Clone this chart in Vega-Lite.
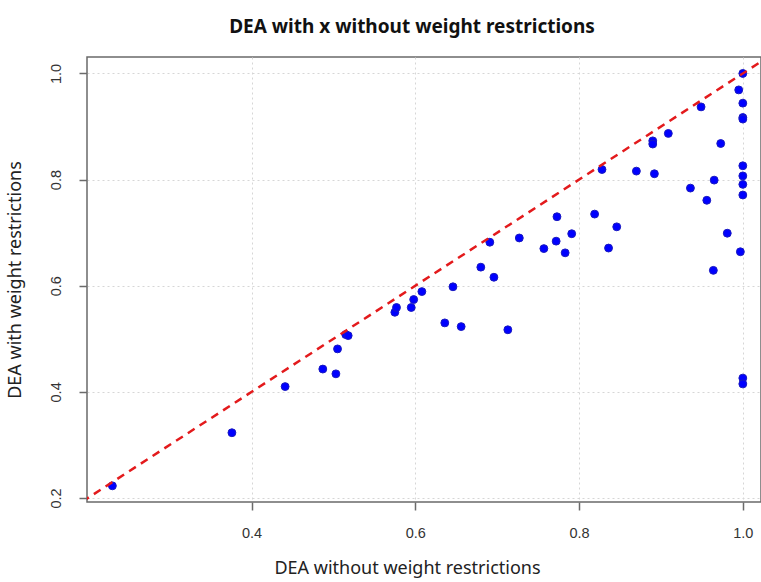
{
  "$schema": "https://vega.github.io/schema/vega-lite/v6.json",
  "autosize": "none",
  "padding": {"left": 87, "top": 57, "right": 0, "bottom": 80},
  "width": 674,
  "height": 445,
  "background": "white",
  "title": {
    "text": "DEA with x without weight restrictions",
    "font": "Noto Sans",
    "fontSize": 19,
    "fontWeight": "bold",
    "color": "#111111",
    "anchor": "middle",
    "dx": -12,
    "offset": 20
  },
  "config": {
    "view": {"stroke": "#6a6a6a", "strokeWidth": 1.5},
    "axis": {
      "grid": true,
      "gridColor": "#d6d6d6",
      "gridDash": [2, 3],
      "gridWidth": 1,
      "domain": false,
      "tickColor": "#6a6a6a",
      "tickSize": 8,
      "tickWidth": 1.5,
      "labelFont": "Liberation Sans",
      "labelFontSize": 14.5,
      "labelColor": "#333333",
      "titleFont": "Noto Sans",
      "titleFontSize": 18,
      "titleFontWeight": "normal",
      "titleColor": "#222222"
    }
  },
  "datasets": {
    "points": [
      {"x": 0.230, "y": 0.223},
      {"x": 0.376, "y": 0.323},
      {"x": 0.441, "y": 0.410},
      {"x": 0.487, "y": 0.443},
      {"x": 0.503, "y": 0.434},
      {"x": 0.505, "y": 0.481},
      {"x": 0.515, "y": 0.508},
      {"x": 0.518, "y": 0.506},
      {"x": 0.575, "y": 0.550},
      {"x": 0.577, "y": 0.559},
      {"x": 0.595, "y": 0.559},
      {"x": 0.598, "y": 0.574},
      {"x": 0.608, "y": 0.589},
      {"x": 0.646, "y": 0.598},
      {"x": 0.636, "y": 0.530},
      {"x": 0.656, "y": 0.523},
      {"x": 0.680, "y": 0.635},
      {"x": 0.696, "y": 0.616},
      {"x": 0.713, "y": 0.517},
      {"x": 0.691, "y": 0.682},
      {"x": 0.727, "y": 0.690},
      {"x": 0.757, "y": 0.670},
      {"x": 0.772, "y": 0.684},
      {"x": 0.773, "y": 0.730},
      {"x": 0.783, "y": 0.662},
      {"x": 0.791, "y": 0.698},
      {"x": 0.819, "y": 0.735},
      {"x": 0.828, "y": 0.819},
      {"x": 0.836, "y": 0.671},
      {"x": 0.846, "y": 0.711},
      {"x": 0.870, "y": 0.816},
      {"x": 0.890, "y": 0.873},
      {"x": 0.890, "y": 0.867},
      {"x": 0.892, "y": 0.811},
      {"x": 0.909, "y": 0.887},
      {"x": 0.936, "y": 0.784},
      {"x": 0.949, "y": 0.937},
      {"x": 0.956, "y": 0.761},
      {"x": 0.964, "y": 0.629},
      {"x": 0.965, "y": 0.799},
      {"x": 0.973, "y": 0.868},
      {"x": 0.981, "y": 0.699},
      {"x": 0.995, "y": 0.969},
      {"x": 0.997, "y": 0.664},
      {"x": 1.0, "y": 1.0},
      {"x": 1.0, "y": 0.944},
      {"x": 1.0, "y": 0.917},
      {"x": 1.0, "y": 0.914},
      {"x": 1.0, "y": 0.826},
      {"x": 1.0, "y": 0.807},
      {"x": 1.0, "y": 0.791},
      {"x": 1.0, "y": 0.771},
      {"x": 1.0, "y": 0.426},
      {"x": 1.0, "y": 0.415}
    ],
    "diag": [
      {"x": 0.15, "y": 0.15},
      {"x": 1.1, "y": 1.1}
    ]
  },
  "layer": [
    {
      "data": {"name": "points"},
      "mark": {"type": "point", "shape": "circle", "filled": true, "size": 62, "color": "#0000ff", "stroke": "#1a1ac0", "strokeWidth": 1, "opacity": 1},
      "encoding": {
        "x": {
          "field": "x", "type": "quantitative",
          "scale": {"domain": [0.199, 1.0222], "nice": false, "zero": false},
          "axis": {
            "values": [0.4, 0.6, 0.8, 1.0],
            "format": ".1f",
            "title": "DEA without weight restrictions",
            "labelPadding": 16,
            "titlePadding": 20,
            "titleX": 320
          }
        },
        "y": {
          "field": "y", "type": "quantitative",
          "scale": {"domain": [0.1925, 1.031], "nice": false, "zero": false},
          "axis": {
            "values": [0.2, 0.4, 0.6, 0.8, 1.0],
            "format": ".1f",
            "title": "DEA with weight restrictions",
            "labelAngle": 270,
            "labelAlign": "center",
            "labelBaseline": "bottom",
            "labelPadding": 16,
            "titlePadding": 24
          }
        }
      }
    },
    {
      "data": {"name": "diag"},
      "mark": {"type": "line", "color": "#e31a1c", "strokeWidth": 2.5, "strokeDash": [8, 6], "clip": true},
      "encoding": {
        "x": {"field": "x", "type": "quantitative"},
        "y": {"field": "y", "type": "quantitative"}
      }
    }
  ]
}
